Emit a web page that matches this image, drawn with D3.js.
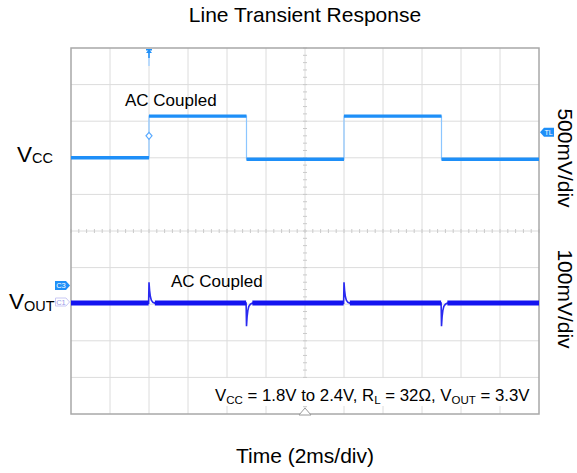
<!DOCTYPE html>
<html><head><meta charset="utf-8">
<script src="https://cdn.jsdelivr.net/npm/d3@7"></script>
<style>body{margin:0;background:#fff} svg{display:block}</style>
</head><body>
<svg id="c" width="577" height="473"></svg>
<script>
// ---- data ----
const titleText = "Line Transient Response";
const xLabelText = "Time (2ms/div)";
const vccScaleText = "500mV/div";
const voutScaleText = "100mV/div";
const couplingText = "AC Coupled";
const timeGrid = [0, 2, 4, 6, 8, 10, 12, 14, 16, 18, 20, 22, 24];      // ms
const divGrid = [-5, -4, -3, -2, -1, 0, 1, 2, 3, 4, 5];               // divisions
const vccTimes = [0, 4, 4, 9, 9, 14, 14, 19, 19, 24];                  // ms
const vccVolts = [1.8, 1.8, 2.37, 2.37, 1.78, 1.78, 2.37, 2.37, 1.78, 1.78]; // V
const voutTimes = [0, 3.98, 4.0, 4.03, 4.07, 4.12, 4.2, 4.3,
                   8.98, 9.0, 9.03, 9.07, 9.12, 9.2, 9.3,
                   13.98, 14.0, 14.03, 14.07, 14.12, 14.2, 14.3,
                   18.98, 19.0, 19.03, 19.07, 19.12, 19.2, 19.3, 24];  // ms
const voutMv = [0, 0, 57, 35, 18, 8, 2, 0,
                0, -63, -38, -20, -9, -3, 0,
                0, 57, 35, 18, 8, 2, 0,
                0, -63, -38, -20, -9, -3, 0, 0];                        // mV (AC coupled)
const triggerTime = 4;      // ms
const triggerLevel = 2.1;   // V

// ---- setup ----
const svg = d3.select("#c");
const FONT = "'Liberation Sans', Arial, Helvetica, sans-serif";
const x = d3.scaleLinear().domain([0, 24]).range([71, 539]);
const yDiv = d3.scaleLinear().domain([-5, 5]).range([414, 48]);
const yVcc = d3.scaleLinear().domain([1.8 - 7 * 0.5, 1.8 + 3 * 0.5]).range([414, 48]);
const yVout = d3.scaleLinear().domain([-303, 697]).range([414, 48]);

const vcc = vccTimes.map((t, i) => ({ t, v: vccVolts[i] }));
const vout = voutTimes.map((t, i) => ({ t, v: voutMv[i] }));

// grid
const g = svg.append("g");
g.selectAll("line.vg").data(timeGrid.slice(1, -1)).join("line")
  .attr("x1", d => x(d)).attr("x2", d => x(d))
  .attr("y1", yDiv(5)).attr("y2", yDiv(-5))
  .attr("stroke", "#dcdcdc").attr("stroke-width", 1);
g.selectAll("line.hg").data(divGrid.slice(1, -1)).join("line")
  .attr("y1", d => yDiv(d)).attr("y2", d => yDiv(d))
  .attr("x1", x(0)).attr("x2", x(24))
  .attr("stroke", "#dcdcdc").attr("stroke-width", 1);
// center minor ticks
const hTicks = d3.range(0, 24.001, 0.4);
g.selectAll("line.ht").data(hTicks).join("line")
  .attr("x1", d => x(d)).attr("x2", d => x(d))
  .attr("y1", yDiv(0) - 2).attr("y2", yDiv(0) + 2)
  .attr("stroke", "#cacaca");
const vTicks = d3.range(-5, 5.001, 0.2);
g.selectAll("line.vt").data(vTicks).join("line")
  .attr("y1", d => yDiv(d)).attr("y2", d => yDiv(d))
  .attr("x1", x(12) - 2).attr("x2", x(12) + 2)
  .attr("stroke", "#cacaca");
// border
g.append("rect").attr("x", x(0)).attr("y", yDiv(5))
  .attr("width", x(24) - x(0)).attr("height", yDiv(-5) - yDiv(5))
  .attr("fill", "none").attr("stroke", "#a8a8a8").attr("stroke-width", 1.5);

// ---- Vcc trace ----
const lineVcc = d3.line().x(d => x(d.t)).y(d => yVcc(d.v));
svg.append("path").datum(vcc).attr("d", lineVcc)
  .attr("fill", "none").attr("stroke", "#8cc6ff").attr("stroke-width", 1.2);
for (let i = 0; i < vcc.length - 1; i++) {
  if (vcc[i].v === vcc[i + 1].v) {
    svg.append("path").datum([vcc[i], vcc[i + 1]]).attr("d", lineVcc)
      .attr("fill", "none").attr("stroke", "#1e8ff8").attr("stroke-width", 3.4);
  }
}
// ---- Vout trace ----
const lineVout = d3.line().x(d => x(d.t)).y(d => yVout(d.v));
svg.append("path").datum(vout).attr("d", lineVout)
  .attr("fill", "none").attr("stroke", "#2a2af0").attr("stroke-width", 1.6);
for (let i = 0; i < vout.length - 1; i++) {
  if (vout[i].v === 0 && vout[i + 1].v === 0) {
    svg.append("path").datum([vout[i], vout[i + 1]]).attr("d", lineVout)
      .attr("fill", "none").attr("stroke", "#1414f0").attr("stroke-width", 5);
  }
}

// ---- markers ----
const tx = x(triggerTime);
svg.append("path")
  .attr("d", `M${tx - 3},${49} L${tx + 3},${49} L${tx + 3},${50.5} L${tx + 1},${50.5} L${tx + 3},${53} L${tx - 3},${53} L${tx - 1},${50.5} L${tx - 3},${50.5} Z M${tx - 0.8},${53} L${tx + 0.8},${53} L${tx + 0.8},${58} L${tx - 0.8},${58} Z`)
  .attr("fill", "#1e8ff8");
svg.append("line").attr("x1", tx).attr("x2", tx).attr("y1", 58).attr("y2", 66)
  .attr("stroke", "#a9d3ff").attr("stroke-width", 1.5);
const ty = yVcc(triggerLevel);
svg.append("path")
  .attr("d", `M${tx},${ty - 3.5} L${tx + 3},${ty} L${tx},${ty + 3.5} L${tx - 3},${ty} Z`)
  .attr("fill", "#fff").attr("stroke", "#5aaaff").attr("stroke-width", 1.2);

// TL flag (right)
const fy = yVcc(2.15);
svg.append("path")
  .attr("d", `M540,${fy} L544,${fy - 4.5} L554,${fy - 4.5} L554,${fy + 4.5} L544,${fy + 4.5} Z`)
  .attr("fill", "#1e8ff8");
svg.append("text").attr("x", 548.5).attr("y", fy + 2.5).attr("text-anchor", "middle")
  .attr("font-family", FONT).attr("font-size", 7).attr("fill", "#fff").text("TL");
// C3 / C1 flags (left)
const c3y = yVout(48), c1y = yVout(3);
svg.append("path")
  .attr("d", `M55,${c3y - 4.5} L66,${c3y - 4.5} L70,${c3y} L66,${c3y + 4.5} L55,${c3y + 4.5} Z`)
  .attr("fill", "#1e8ff8");
svg.append("text").attr("x", 61).attr("y", c3y + 2.6).attr("text-anchor", "middle")
  .attr("font-family", FONT).attr("font-size", 7.5).attr("fill", "#fff").text("C3");
svg.append("path")
  .attr("d", `M55.5,${c1y - 4} L66,${c1y - 4} L69.5,${c1y} L66,${c1y + 4} L55.5,${c1y + 4} Z`)
  .attr("fill", "#fff").attr("stroke", "#c8c8f4").attr("stroke-width", 1);
svg.append("text").attr("x", 61).attr("y", c1y + 2.6).attr("text-anchor", "middle")
  .attr("font-family", FONT).attr("font-size", 7.5).attr("fill", "#9a9ae8").text("C1");

// annotation box
svg.append("rect").attr("x", 207).attr("y", 378).attr("width", 331).attr("height", 28)
  .attr("fill", "#fff");
// bottom center marker
const cx = x(12);
svg.append("path").attr("d", `M${cx},408 L${cx + 6},415 L${cx - 6},415 Z`)
  .attr("fill", "#fff").attr("stroke", "#9a9a9a").attr("stroke-width", 1);

// ---- texts ----
function txt(xp, yp, size, anchor) {
  return svg.append("text").attr("x", xp).attr("y", yp)
    .attr("font-family", FONT).attr("font-size", size)
    .attr("text-anchor", anchor || "start").attr("fill", "#000");
}
txt(305, 22, 21, "middle").text(titleText);
txt(305, 463, 21, "middle").text(xLabelText);
txt(125, 106, 17).text(couplingText);
txt(171, 287, 17).text(couplingText);

const vccLbl = txt(17, 161.5, 22.5);
vccLbl.append("tspan").text("V");
vccLbl.append("tspan").attr("font-size", 14.5).attr("dy", 1.5).text("CC");
const voutLbl = txt(9, 308.5, 22.5);
voutLbl.append("tspan").text("V");
voutLbl.append("tspan").attr("font-size", 14.5).attr("dy", 2.5).text("OUT");

svg.append("text").attr("transform", "translate(558,158) rotate(90)")
  .attr("font-family", FONT).attr("font-size", 21).attr("text-anchor", "middle")
  .text(vccScaleText);
svg.append("text").attr("transform", "translate(558,299) rotate(90)")
  .attr("font-family", FONT).attr("font-size", 21).attr("text-anchor", "middle")
  .text(voutScaleText);

// conditions line with subscripts
const cond = txt(215, 401, 16.8);
const parts = [["V", 0], ["CC", 1], [" = 1.8V to 2.4V, R", 0], ["L", 1], [" = 32Ω, V", 0], ["OUT", 1], [" = 3.3V", 0]];
let prevSub = false;
parts.forEach(([s, sub]) => {
  const ts = cond.append("tspan").text(s);
  if (sub) { ts.attr("font-size", 11.5).attr("dy", 3); prevSub = true; }
  else if (prevSub) { ts.attr("dy", -3); prevSub = false; }
});
</script>
</body></html>
